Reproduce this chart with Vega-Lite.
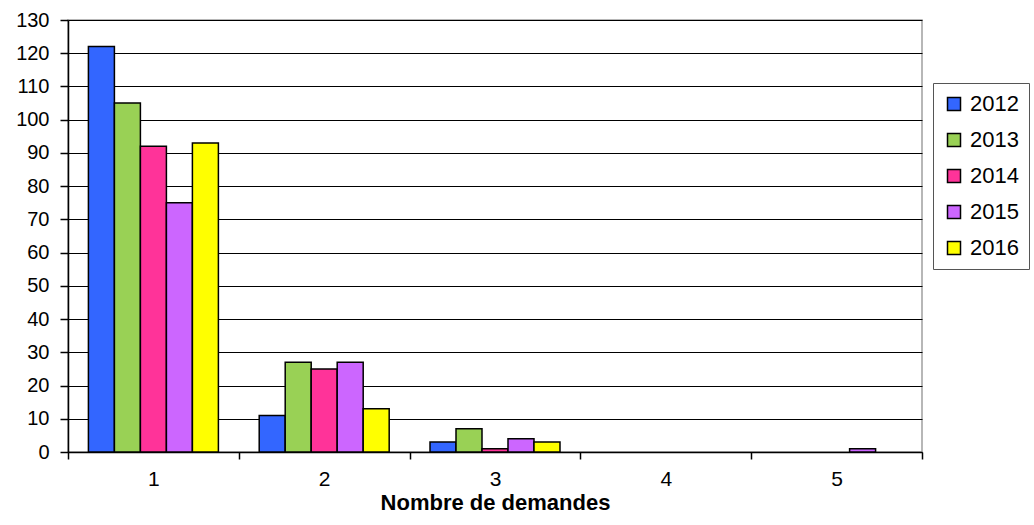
{
  "$schema": "https://vega.github.io/schema/vega-lite/v6.json",
  "width": 854,
  "height": 432,
  "autosize": "none",
  "padding": {"left": 68, "top": 20, "right": 112, "bottom": 73},
  "background": "white",
  "config": {
    "font": "Liberation Sans",
    "view": {"stroke": "#a0a0a0", "strokeWidth": 1.5}
  },
  "data": {
    "values": [
      {"demandes": "1", "annee": "2012", "nombre": 122},
      {"demandes": "1", "annee": "2013", "nombre": 105},
      {"demandes": "1", "annee": "2014", "nombre": 92},
      {"demandes": "1", "annee": "2015", "nombre": 75},
      {"demandes": "1", "annee": "2016", "nombre": 93},
      {"demandes": "2", "annee": "2012", "nombre": 11},
      {"demandes": "2", "annee": "2013", "nombre": 27},
      {"demandes": "2", "annee": "2014", "nombre": 25},
      {"demandes": "2", "annee": "2015", "nombre": 27},
      {"demandes": "2", "annee": "2016", "nombre": 13},
      {"demandes": "3", "annee": "2012", "nombre": 3},
      {"demandes": "3", "annee": "2013", "nombre": 7},
      {"demandes": "3", "annee": "2014", "nombre": 1},
      {"demandes": "3", "annee": "2015", "nombre": 4},
      {"demandes": "3", "annee": "2016", "nombre": 3},
      {"demandes": "5", "annee": "2015", "nombre": 1}
    ]
  },
  "mark": {"type": "bar", "stroke": "black", "strokeWidth": 1.5},
  "encoding": {
    "x": {
      "field": "demandes",
      "type": "nominal",
      "scale": {"domain": ["1", "2", "3", "4", "5"], "paddingInner": 0, "paddingOuter": 0},
      "axis": {
        "title": "Nombre de demandes",
        "titleFontSize": 22,
        "titleFontWeight": "bold",
        "titleColor": "black",
        "titlePadding": 3,
        "labelAngle": 0,
        "labelFontSize": 21,
        "labelColor": "black",
        "labelPadding": 9,
        "tickBand": "extent",
        "tickSize": 7,
        "tickColor": "black",
        "tickWidth": 1.5,
        "domainColor": "black",
        "domainWidth": 1.5,
        "grid": false
      }
    },
    "xOffset": {
      "field": "annee",
      "type": "nominal",
      "scale": {"paddingInner": 0, "paddingOuter": 0.785}
    },
    "y": {
      "field": "nombre",
      "type": "quantitative",
      "scale": {"domain": [0, 130], "nice": false},
      "axis": {
        "title": null,
        "values": [0, 10, 20, 30, 40, 50, 60, 70, 80, 90, 100, 110, 120, 130],
        "labelFontSize": 20,
        "labelColor": "black",
        "labelPadding": 11,
        "tickSize": 8,
        "tickColor": "black",
        "tickWidth": 1.5,
        "domainColor": "black",
        "domainWidth": 1.5,
        "grid": true,
        "gridColor": "black",
        "gridWidth": 1.2
      }
    },
    "color": {
      "field": "annee",
      "type": "nominal",
      "scale": {
        "domain": ["2012", "2013", "2014", "2015", "2016"],
        "range": ["#3366FF", "#99D155", "#FF3399", "#CC66FF", "#FFFF00"]
      },
      "legend": {
        "title": null,
        "orient": "none",
        "legendX": 865,
        "legendY": 63,
        "symbolType": "square",
        "symbolSize": 169,
        "symbolStrokeColor": "black",
        "symbolStrokeWidth": 1.5,
        "labelFontSize": 22,
        "labelColor": "black",
        "labelOffset": 5,
        "rowPadding": 14,
        "padding": 10,
        "strokeColor": "#555555",
        "fillColor": "white"
      }
    }
  }
}
